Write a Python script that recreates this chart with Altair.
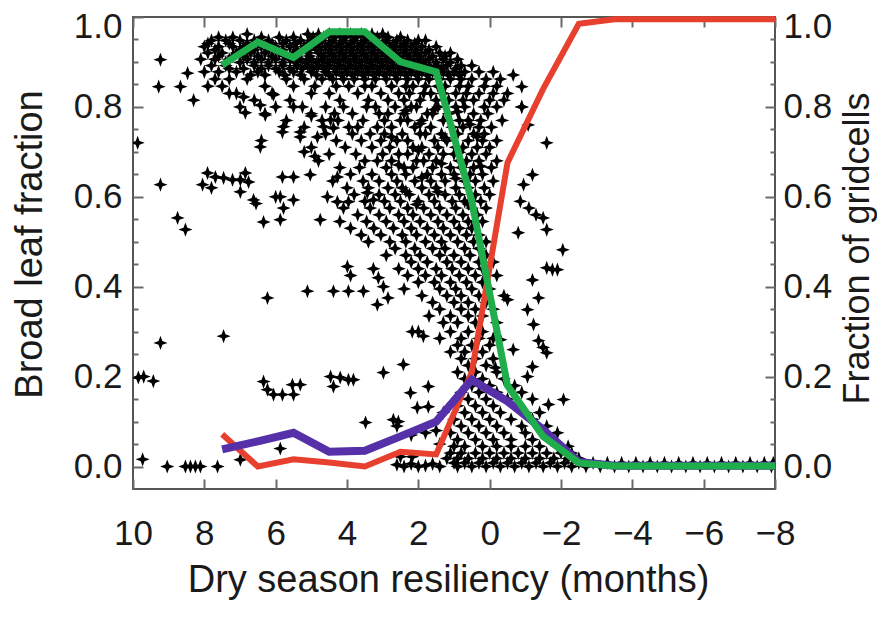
import altair as alt
import pandas as pd

# ---------------- values ----------------
# bin centres of the three summary curves (months of dry-season resiliency)
bin_x = [7.5, 6.5, 5.5, 4.5, 3.5, 2.5, 1.5, 0.5, -0.5, -1.5, -2.5,
         -3.5, -4.5, -5.5, -6.5, -7.5, -8.0]
red_vals = [0.072, 0.0, 0.016, 0.009, 0.0, 0.033, 0.027, 0.21, 0.676, 0.84, 0.985,
            0.995, 0.995, 0.995, 0.995, 0.995, 0.995]
blue_vals = [0.038, 0.056, 0.075, 0.033, 0.035, 0.067, 0.10, 0.193, 0.145, 0.082, 0.01,
             0.002, 0.002, 0.002, 0.002, 0.002, 0.002]
green_vals = [0.893, 0.944, 0.91, 0.967, 0.967, 0.90, 0.878, 0.59, 0.18, 0.067, 0.008,
              0.001, 0.001, 0.001, 0.001, 0.001, 0.001]

x_ticks = [10, 8, 6, 4, 2, 0, -2, -4, -6, -8]
y_major = [0.0, 0.2, 0.4, 0.6, 0.8, 1.0]
y_minor = [0.05, 0.1, 0.15, 0.25, 0.3, 0.35, 0.45, 0.5, 0.55,
           0.65, 0.7, 0.75, 0.85, 0.9, 0.95]

# scattered grid cells: isolated points (x, broad-leaf fraction)
scatter_isolated = [
    (9.87, 0.72), (9.23, 0.905), (9.28, 0.845), (8.67, 0.845), (8.47, 0.875), (8.3, 0.815),
    (9.23, 0.627), (8.75, 0.553), (8.53, 0.527), (9.23, 0.275), (9.85, 0.198), (9.7, 0.2),
    (9.43, 0.19), (9.73, 0.016), (9.04, 0.0), (8.53, 0.0), (8.39, 0.0), (8.25, 0.0), (8.11, 0.0),
    (7.63, 0.0), (6.99, 0.015), (5.87, 0.04), (7.46, 0.29), (6.23, 0.375), (5.11, 0.39),
    (4.38, 0.39), (3.96, 0.39), (3.54, 0.39), (3.99, 0.445), (3.9, 0.425), (3.26, 0.44),
    (3.12, 0.42), (2.98, 0.4), (2.85, 0.375), (3.15, 0.36), (6.34, 0.189), (6.23, 0.171),
    (6.06, 0.16), (5.81, 0.16), (5.53, 0.182), (5.5, 0.16), (5.31, 0.182), (4.46, 0.2),
    (4.38, 0.178), (4.19, 0.198), (3.96, 0.193), (3.82, 0.193), (2.98, 0.209), (3.48, 0.098),
    (2.56, 0.1), (2.7, 0.104), (2.42, 0.227), (2.22, 0.164), (2.03, 0.131), (1.72, 0.178),
    (1.72, 0.133), (2.17, 0.3), (2.0, 0.3), (1.86, 0.29), (2.17, 0.022), (2.5, 0.022),
    (2.6, 0.004), (2.4, 0.0), (2.2, 0.006), (2.0, 0.0), (1.8, 0.002), (1.6, 0.006), (1.4, 0.0),
    (2.6, 0.09), (2.2, 0.07), (1.8, 0.075), (1.5, 0.08), (1.3, 0.12), (1.4, 0.05),
    (-0.66, 0.871), (-0.9, 0.845), (-0.9, 0.8), (-1.6, 0.72), (-1.08, 0.76), (-1.2, 0.649),
    (-0.95, 0.627), (-0.86, 0.59), (-1.1, 0.575), (-1.3, 0.56), (-1.5, 0.553), (-1.6, 0.527),
    (-0.8, 0.52), (-1.2, 0.415), (-1.37, 0.375), (-1.06, 0.349), (-1.23, 0.316), (-1.37, 0.28),
    (-1.5, 0.265), (-1.6, 0.253), (-1.2, 0.222), (-1.06, 0.2), (-1.65, 0.138), (-2.07, 0.149),
    (-1.6, 0.442), (-1.76, 0.438), (-1.9, 0.438), (-2.05, 0.482), (-0.5, 0.371), (-0.66, 0.26),
    (-0.16, 0.22), (-0.3, 0.282),
]

# group of cells around 0.55-0.65 and 0.7-0.83 on the humid side
scatter_groups = [
    (7.91, 0.653), (7.69, 0.644), (7.46, 0.642), (7.21, 0.638), (6.99, 0.638), (6.85, 0.653),
    (6.76, 0.633), (8.05, 0.627), (6.99, 0.611), (6.62, 0.593), (6.55, 0.585), (6.0, 0.6),
    (5.87, 0.6), (5.5, 0.593), (5.78, 0.575), (6.34, 0.544), (5.87, 0.549), (5.81, 0.644),
    (5.5, 0.644), (5.03, 0.649), (4.75, 0.549), (4.27, 0.644), (4.55, 0.6), (4.27, 0.589),
    (3.96, 0.589), (3.43, 0.609), (3.26, 0.593), (7.8, 0.62),
    (6.9, 0.822), (6.43, 0.804), (6.06, 0.827), (6.29, 0.782), (5.78, 0.756), (5.31, 0.733),
    (6.85, 0.787), (6.43, 0.711), (5.81, 0.744), (5.31, 0.744), (4.83, 0.733), (4.66, 0.756),
    (4.38, 0.753), (4.46, 0.771), (7.3, 0.83), (5.5, 0.8), (5.0, 0.78), (4.9, 0.69), (5.2, 0.7),
    (2.35, 0.792), (1.55, 0.794), (0.9, 0.789), (1.95, 0.763), (0.55, 0.761), (2.75, 0.733),
    (1.25, 0.731), (0.35, 0.734), (2.0, 0.703), (0.85, 0.699), (2.55, 0.671), (1.35, 0.674),
    (0.25, 0.668), (1.9, 0.643), (0.95, 0.641), (2.35, 0.612), (1.45, 0.611), (0.6, 0.584),
    (2.05, 0.583),
]

# dense parts of the cloud, row by row: fraction -> resiliency values
scatter_rows = {
    0.962: [6.8, 5.1, 4.8, 4.5, 4.2, 3.9, 3.6, 3.3, 3.0],
    0.955: [7.6, 7.2, 6.4, 5.9, 5.5, 4.95, 4.65, 4.35, 4.05, 3.75, 3.45, 3.15, 2.85, 2.5],
    0.948: [7.8, 7.4, 7.0, 6.6, 6.2, 5.7, 5.3, 5.0, 4.7, 4.4, 4.1, 3.8, 3.5, 3.2, 2.9, 2.6, 2.3, 2.0, 1.8],
    0.941: [7.9, 7.3, 6.8, 6.5, 6.1, 5.8, 5.45, 5.1, 4.8, 4.5, 4.2, 3.9, 3.6, 3.3, 3.0, 2.7, 2.4, 2.1],
    0.934: [8.0, 7.6, 7.2, 6.9, 6.4, 6.0, 5.6, 5.2, 4.9, 4.6, 4.3, 4.0, 3.7, 3.4, 3.1, 2.8, 2.5, 2.2, 1.9, 1.5],
    0.927: [7.7, 7.0, 6.6, 6.2, 5.8, 5.4, 5.05, 4.75, 4.45, 4.15, 3.85, 3.55, 3.25, 2.95, 2.65, 2.35, 2.05, 1.7],
    0.920: [7.9, 7.5, 7.1, 6.7, 6.3, 5.9, 5.5, 5.1, 4.8, 4.5, 4.2, 3.9, 3.6, 3.3, 3.0, 2.7, 2.4, 2.1, 1.8, 1.4, 1.1],
    0.913: [7.6, 7.2, 6.9, 6.5, 6.1, 5.75, 5.4, 5.05, 4.65, 4.35, 4.05, 3.75, 3.45, 3.15, 2.85, 2.55, 2.25, 1.95, 1.6, 1.25],
    0.906: [8.1, 7.7, 7.3, 6.8, 6.4, 6.0, 5.6, 5.3, 5.0, 4.7, 4.4, 4.1, 3.8, 3.5, 3.2, 2.9, 2.6, 2.3, 2.0, 1.7, 1.3, 0.9],
    0.899: [7.4, 7.0, 6.6, 6.2, 5.8, 5.45, 5.15, 4.85, 4.55, 4.25, 3.95, 3.65, 3.35, 3.05, 2.75, 2.45, 2.15, 1.85, 1.5, 1.1],
    0.892: [7.8, 7.4, 6.6, 6.2, 5.8, 5.4, 5.1, 4.8, 4.5, 4.2, 3.9, 3.6, 3.3, 3.0, 2.7, 2.4, 2.1, 1.8, 1.5, 1.2, 0.8, 0.5],
    0.885: [7.3, 6.9, 6.4, 6.0, 5.6, 5.25, 4.95, 4.65, 4.35, 4.05, 3.75, 3.45, 3.15, 2.85, 2.55, 2.25, 1.95, 1.65, 1.35, 0.95],
    0.878: [8.0, 7.6, 7.1, 6.5, 5.9, 5.5, 5.0, 4.6, 4.3, 4.0, 3.7, 3.4, 3.1, 2.8, 2.5, 2.2, 1.9, 1.6, 1.3, 1.0, 0.7, 0.3, -0.1],
    0.871: [6.7, 6.3, 5.75, 5.3, 4.85, 4.5, 4.15, 3.85, 3.55, 3.25, 2.95, 2.65, 2.35, 2.05, 1.75, 1.45, 1.15, 0.85],
    0.862: [7.7, 7.3, 6.8, 5.7, 5.2, 4.7, 4.4, 4.1, 3.8, 3.5, 3.2, 2.9, 2.6, 2.3, 2.0, 1.7, 1.4, 1.1, 0.8, 0.5, 0.1, -0.3],
    0.846: [7.9, 7.5, 6.3, 5.5, 4.9, 4.3, 3.95, 3.5, 3.3, 2.75, 2.35, 2.15, 1.8, 1.45, 1.25, 0.85, 0.6, 0.15, -0.2],
    0.830: [7.1, 6.1, 5.0, 4.5, 3.7, 3.05, 2.55, 2.25, 1.85, 1.65, 1.3, 0.95, 0.65, 0.3, -0.1, -0.5],
    0.815: [6.6, 5.6, 4.2, 3.4, 2.85, 2.4, 1.95, 1.5, 1.15, 0.75, 0.45, 0.0, -0.4],
    0.800: [7.0, 6.0, 5.25, 4.6, 4.1, 3.45, 3.2, 2.65, 2.2, 2.05, 1.45, 0.95, 0.7, 0.15, -0.2, -0.9],
    0.785: [6.3, 5.0, 4.35, 3.85, 3.1, 2.85, 2.4, 1.75, 1.6, 1.15, 0.45, 0.05],
    0.770: [5.7, 4.7, 4.25, 3.55, 2.95, 2.5, 2.3, 1.9, 1.3, 0.85, 0.6, 0.25, -0.35],
    0.755: [5.2, 3.95, 3.7, 3.15, 2.75, 2.1, 1.65, 1.05, 0.75, 0.3, -0.05],
    0.740: [4.6, 3.85, 3.35, 2.95, 2.45, 1.95, 1.8, 1.35, 0.9, 0.45, 0.15],
    0.725: [6.4, 4.3, 3.6, 3.05, 2.6, 2.3, 1.55, 1.2, 0.6, 0.2, -0.2],
    0.710: [5.0, 4.05, 3.3, 2.8, 2.15, 1.9, 1.45, 0.95, 0.75, 0.35, 0.0],
    0.695: [4.5, 3.75, 3.0, 2.55, 2.3, 1.7, 1.3, 1.0, 0.5, 0.1],
    0.680: [4.8, 3.5, 3.15, 2.75, 2.05, 1.85, 1.5, 0.85, 0.65, 0.3, -0.2],
    0.665: [4.2, 3.65, 2.9, 2.4, 2.15, 1.6, 1.1, 0.8, 0.45, -0.05],
    0.650: [3.9, 3.3, 2.75, 2.35, 1.75, 1.35, 1.0, 0.55, 0.2],
    0.635: [4.4, 3.55, 3.1, 2.6, 2.1, 1.65, 1.25, 0.7, 0.4, -0.1],
    0.620: [4.0, 3.4, 2.85, 2.45, 1.9, 1.5, 0.95, 0.6, 0.15],
    0.605: [3.8, 3.1, 2.65, 2.25, 1.7, 1.25, 0.85, 0.4, 0.0],
    0.590: [3.5, 2.95, 2.5, 2.0, 1.55, 1.05, 0.7, 0.25],
    0.575: [4.1, 3.35, 2.8, 2.3, 1.85, 1.4, 0.95, 0.5, 0.1],
    0.560: [3.7, 3.1, 2.55, 2.15, 1.65, 1.2, 0.75, 0.35],
    0.545: [4.2, 3.45, 2.9, 2.4, 1.95, 1.45, 1.0, 0.6, 0.2],
    0.530: [3.9, 3.25, 2.7, 2.2, 1.75, 1.3, 0.85, 0.5],
    0.515: [3.6, 3.05, 2.45, 2.05, 1.55, 1.1, 0.65, 0.3],
    0.500: [3.4, 2.8, 2.35, 1.8, 1.35, 0.9, 0.45, 0.1],
    0.485: [2.65, 2.1, 1.6, 1.25, 0.7, 0.3],
    0.470: [2.9, 2.35, 1.95, 1.4, 1.0, 0.55, 0.1],
    0.455: [2.2, 1.75, 1.2, 0.8, 0.3, -0.1],
    0.440: [2.55, 2.0, 1.5, 1.05, 0.6, 0.2],
    0.425: [2.3, 1.8, 1.35, 0.85, 0.4, -0.2],
    0.410: [2.0, 1.55, 1.1, 0.65, 0.2],
    0.395: [2.4, 1.4, 0.95, 0.5, 0.0],
    0.380: [1.9, 1.2, 0.8, 0.3, -0.4],
    0.365: [1.6, 1.0, 0.6, 0.1],
    0.350: [1.4, 0.8, 0.4, -0.1],
    0.335: [1.7, 1.1, 0.6, 0.2],
    0.320: [1.3, 0.9, 0.4, -0.2],
    0.300: [1.1, 0.6, 0.2],
    0.285: [1.4, 0.8, 0.3, -0.1],
    0.270: [0.9, 0.5, 0.0],
    0.255: [1.1, 0.7, 0.2],
    0.240: [0.8, 0.4, -0.1],
    0.225: [0.6, 0.1],
    0.210: [0.9, 0.4, -0.2],
    0.195: [0.7, 0.2, -0.4],
    0.180: [0.5, 0.0, -0.7],
    0.165: [0.8, 0.3, -0.2, -0.9],
    0.150: [0.6, 0.1, -0.5, -1.2],
    0.135: [0.9, 0.4, -0.1, -0.8],
    0.120: [0.7, 0.2, -0.3, -1.0, -1.4],
    0.105: [1.0, 0.5, 0.0, -0.6, -1.2],
    0.090: [0.8, 0.3, -0.2, -0.9, -1.6],
    0.075: [1.1, 0.6, 0.1, -0.4, -1.0, -1.5, -1.9],
    0.060: [0.9, 0.4, -0.1, -0.6, -1.2, -1.7],
    0.045: [1.0, 0.7, 0.2, -0.2, -0.6, -1.0, -1.4, -1.9, -2.2],
    0.030: [1.1, 0.8, 0.4, 0.0, -0.4, -0.8, -1.2, -1.6, -2.0, -2.3],
    0.018: [1.2, 0.9, 0.6, 0.2, -0.2, -0.6, -1.0, -1.4, -1.8, -2.2, -2.5],
    0.008: [1.0, 0.7, 0.3, -0.1, -0.5, -0.9, -1.3, -1.7, -2.1, -2.5, -2.9, -3.3, -3.7, -4.1,
            -4.5, -4.9, -5.3, -5.7, -6.1, -6.5, -6.9, -7.3, -7.7, -7.95],
    0.000: [0.9, 0.5, 0.1, -0.3, -0.7, -1.1, -1.5, -1.9, -2.3, -2.7, -3.1, -3.5, -3.9, -4.3,
            -4.7, -5.1, -5.5, -5.9, -6.3, -6.7, -7.1, -7.5, -7.9],
}

# ---------------- tables ----------------
pts = list(scatter_isolated) + list(scatter_groups)
for yv, xs_row in scatter_rows.items():
    pts += [(xv, yv) for xv in xs_row]
scatter_df = pd.DataFrame(pts, columns=["x", "y"])

red_df = pd.DataFrame({"x": bin_x, "v": red_vals})
blue_df = pd.DataFrame({"x": bin_x, "v": blue_vals})
green_df = pd.DataFrame({"x": bin_x, "v": green_vals})

# ---------------- styling ----------------
FONT = "Liberation Sans"
TICK_COLOR = "#6a6a6a"
xscale = alt.Scale(domain=[-8, 10], reverse=True, nice=False, zero=False)
yscale = alt.Scale(domain=[-0.05, 1.0], nice=False, zero=False)
STAR = "M0,-1L0.27,-0.27L1,0L0.27,0.27L0,1L-0.27,0.27L-1,0L-0.27,-0.27Z"
x_label_expr = "datum.value < 0 ? '\u2212' + format(-datum.value, 'd') : format(datum.value, 'd')"

common = dict(domain=False, grid=False, tickColor=TICK_COLOR, tickWidth=2)

scatter = alt.Chart(scatter_df).mark_point(
    shape=STAR, filled=True, color="black", opacity=1, size=200, clip=True
).encode(
    x=alt.X("x:Q", scale=xscale, axis=alt.Axis(
        orient="bottom", values=x_ticks, tickSize=10, offset=-10,
        labelPadding=27, labelFont=FONT, labelFontSize=35, labelColor="#1a1a1a",
        labelExpr=x_label_expr, labelFlush=False, labelOverlap=False,
        title="Dry season resiliency (months)", titleFont=FONT, titleFontSize=38,
        titleFontWeight="normal", titleColor="#1a1a1a", titleX=315, titleY=112,
        titleAlign="center", titleBaseline="alphabetic", **common)),
    y=alt.Y("y:Q", scale=yscale, axis=alt.Axis(
        orient="left", values=y_major, tickSize=10, offset=-10, labelPadding=11,
        format=".1f", labelFlush=True, labelFlushOffset=8, labelFont=FONT, labelFontSize=35,
        labelColor="#1a1a1a", labelOverlap=False,
        title="Broad leaf fraction", titleFont=FONT, titleFontSize=38,
        titleFontWeight="normal", titleColor="#1a1a1a", titleAngle=270,
        titleX=-113, titleY=227, titleAlign="center", titleBaseline="middle", **common)),
)

red = alt.Chart(red_df).mark_line(color="#e8402e", strokeWidth=6, clip=False).encode(
    x=alt.X("x:Q", scale=xscale, axis=alt.Axis(
        orient="top", values=x_ticks, tickSize=10, offset=-10, labels=False,
        title="", **common)),
    y=alt.Y("v:Q", scale=yscale, axis=alt.Axis(
        orient="right", values=y_major, tickSize=10, offset=-10, labelPadding=8,
        format=".1f", labelFlush=True, labelFlushOffset=8, labelFont=FONT, labelFontSize=35,
        labelColor="#1a1a1a", labelOverlap=False,
        title="Fraction of gridcells", titleFont=FONT, titleFontSize=36,
        titleFontWeight="normal", titleColor="#1a1a1a", titleAngle=270,
        titleX=92, titleY=231, titleAlign="center", titleBaseline="middle", **common)),
)

blue = alt.Chart(blue_df).mark_line(color="#5530a8", strokeWidth=8, clip=False).encode(
    x=alt.X("x:Q", scale=xscale, axis=None),
    y=alt.Y("v:Q", scale=yscale, axis=alt.Axis(
        orient="left", values=y_minor, tickSize=5, offset=-5, labels=False,
        title="", **common)),
)

green = alt.Chart(green_df).mark_line(color="#1fae4b", strokeWidth=7, clip=False).encode(
    x=alt.X("x:Q", scale=xscale, axis=None),
    y=alt.Y("v:Q", scale=yscale, axis=alt.Axis(
        orient="right", values=y_minor, tickSize=5, offset=-5, labels=False,
        title="", **common)),
)

chart = alt.layer(scatter, red, blue, green).resolve_scale(
    x="independent", y="independent"
).properties(
    width=642, height=472,
    padding={"left": 133, "top": 17, "right": 102, "bottom": 143},
    autosize=alt.AutoSizeParams(type="none"),
    background="white",
).configure_view(stroke="#555555", strokeWidth=2)

chart.save("out.html", embed_options={"renderer": "svg", "actions": False})
